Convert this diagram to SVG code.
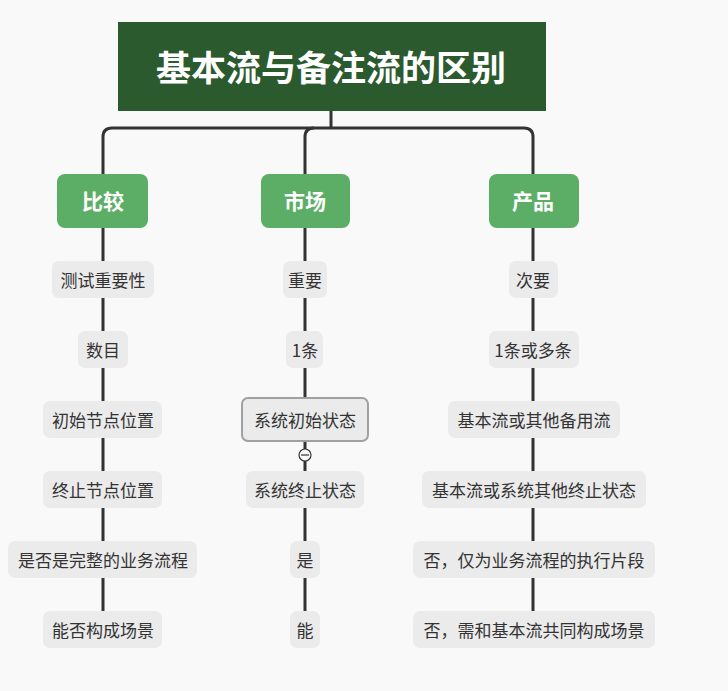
<svg xmlns="http://www.w3.org/2000/svg" width="728" height="691" viewBox="0 0 728 691">
<style>
text{font-family:"Noto Sans CJK SC","Noto Sans",sans-serif;text-anchor:middle;dominant-baseline:central}
.item rect{fill:#ebebeb}
.item text{font-size:17px;fill:#333}
.cat rect{fill:#5cae66}
.cat text{font-size:21px;font-weight:bold;fill:#fff}
.line{stroke:#333;stroke-width:3;fill:none}
</style>
<rect width="728" height="691" fill="#f9f9f9"/>
<g id="connectors">
<path class="line" d="M331,111 V128"/>
<path class="line" d="M103,174 V137 Q103,128 112,128 H524 Q533,128 533,137 V174"/>
<path class="line" d="M305,174 V137 Q305,128 314,128"/>
<path class="line" d="M103,228 V611"/>
<path class="line" d="M305,228 V449 M305,461 V611"/>
<path class="line" d="M533,228 V611"/>
</g>
<g id="title">
<rect x="118" y="22" width="428" height="89" fill="#2b5a2f"/>
<text x="331" y="65" font-size="35" font-weight="bold" fill="#fff">基本流与备注流的区别</text>
</g>
<g id="cat-bijiao" class="cat"><rect x="57" y="174" width="91" height="54" rx="8"/><text x="103" y="200">比较</text></g>
<g id="cat-shichang" class="cat"><rect x="261" y="174" width="89" height="54" rx="8"/><text x="305" y="200">市场</text></g>
<g id="cat-chanpin" class="cat"><rect x="489" y="174" width="90" height="54" rx="8"/><text x="533" y="200">产品</text></g>

<g id="l1" class="item"><rect x="52" y="261" width="102" height="37" rx="7"/><text x="103" y="279">测试重要性</text></g>
<g id="l2" class="item"><rect x="78" y="331" width="50" height="37" rx="7"/><text x="103" y="349">数目</text></g>
<g id="l3" class="item"><rect x="43" y="401" width="119" height="37" rx="7"/><text x="103" y="419">初始节点位置</text></g>
<g id="l4" class="item"><rect x="43" y="471" width="119" height="37" rx="7"/><text x="103" y="489">终止节点位置</text></g>
<g id="l5" class="item"><rect x="8" y="541" width="189" height="37" rx="7"/><text x="103" y="559">是否是完整的业务流程</text></g>
<g id="l6" class="item"><rect x="43" y="611" width="119" height="37" rx="7"/><text x="103" y="629">能否构成场景</text></g>

<g id="m1" class="item"><rect x="283" y="261" width="44" height="37" rx="7"/><text x="305" y="279">重要</text></g>
<g id="m2" class="item"><rect x="286" y="331" width="37" height="37" rx="7"/><text x="305" y="349">1条</text></g>
<g id="m3" class="item"><rect x="242" y="398" width="126" height="43" rx="6" fill="none" stroke="#a0a0a0" stroke-width="2"/><rect x="245" y="401" width="120" height="37" rx="6"/><text x="305" y="419">系统初始状态</text>
<circle cx="305" cy="455" r="6" fill="#f9f9f9" stroke="#333" stroke-width="1.2"/><path d="M301,455 H309" stroke="#333" stroke-width="1.2"/></g>
<g id="m4" class="item"><rect x="246" y="471" width="118" height="37" rx="7"/><text x="305" y="489">系统终止状态</text></g>
<g id="m5" class="item"><rect x="290" y="541" width="30" height="37" rx="7"/><text x="305" y="559">是</text></g>
<g id="m6" class="item"><rect x="290" y="611" width="30" height="37" rx="7"/><text x="305" y="629">能</text></g>

<g id="r1" class="item"><rect x="509" y="261" width="49" height="37" rx="7"/><text x="533" y="279">次要</text></g>
<g id="r2" class="item"><rect x="489" y="331" width="90" height="37" rx="7"/><text x="533" y="349">1条或多条</text></g>
<g id="r3" class="item"><rect x="448" y="401" width="172" height="37" rx="7"/><text x="534" y="419">基本流或其他备用流</text></g>
<g id="r4" class="item"><rect x="422" y="471" width="224" height="37" rx="7"/><text x="534" y="489">基本流或系统其他终止状态</text></g>
<g id="r5" class="item"><rect x="413" y="541" width="242" height="37" rx="7"/><text x="534" y="559">否，仅为业务流程的执行片段</text></g>
<g id="r6" class="item"><rect x="413" y="611" width="242" height="37" rx="7"/><text x="534" y="629">否，需和基本流共同构成场景</text></g>
</svg>
